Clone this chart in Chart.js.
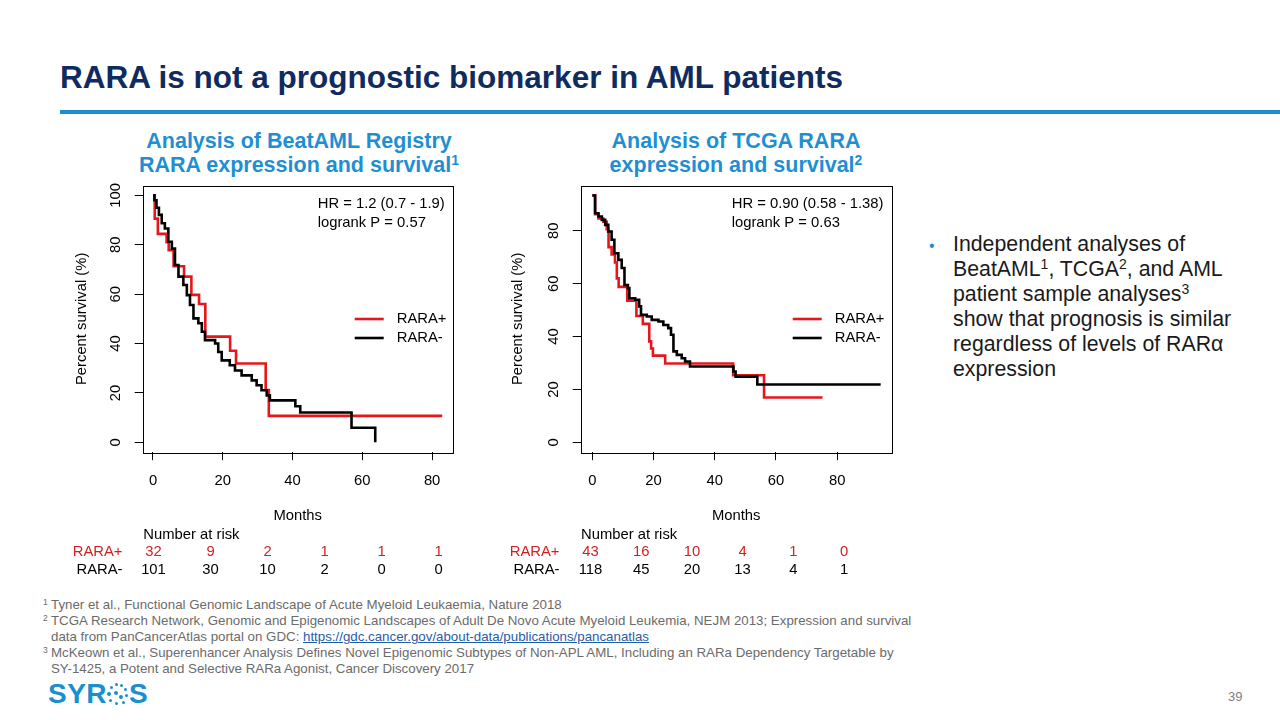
<!DOCTYPE html>
<html><head><meta charset="utf-8">
<script src="https://cdn.jsdelivr.net/npm/chart.js@4.4.0/dist/chart.umd.min.js"></script>
<style>
html,body{margin:0;padding:0;background:#fff;}
body{width:1280px;height:720px;position:relative;overflow:hidden;font-family:"Liberation Sans",Arial,Helvetica,sans-serif;}
.abs{position:absolute;white-space:nowrap;}
#title{left:60px;top:58px;font-size:31.5px;font-weight:bold;color:#0f2b5f;line-height:38px;}
#rule{left:60px;top:110px;width:1220px;height:4px;background:#1a8fd0;}
.sub{top:129px;width:440px;text-align:center;font-size:21.5px;font-weight:bold;color:#1f8fd3;line-height:24px;}
.sub sup{font-size:14px;line-height:0;vertical-align:7px;}
#bullet{left:953px;top:232px;font-size:21.3px;line-height:25px;color:#1a1a1a;}
#bullet sup{font-size:14px;line-height:0;vertical-align:7px;}
#bdot{left:929px;top:233px;font-size:16px;line-height:25px;color:#1f8fd3;}
.cv{position:absolute;top:175px;width:440px;height:355px;}
.risk{position:absolute;font-size:14.8px;line-height:18px;white-space:nowrap;}
#foot{left:43px;top:597px;font-size:13.3px;line-height:16.1px;color:#6b6b6b;}
#foot .n{display:inline-block;width:8px;font-size:8.5px;vertical-align:4px;line-height:0;}
#foot .c{display:inline-block;width:8px;}
#foot a{color:#1f5ea8;text-decoration:underline;}
#logo{left:48px;top:679px;font-size:28px;font-weight:bold;color:#1a8fd0;line-height:30px;letter-spacing:0.5px;}
#logo .dots{display:inline-block;position:relative;width:22px;height:22px;vertical-align:-2px;}
#logo .dots i{position:absolute;border-radius:50%;background:#1a8fd0;}
#pg{left:1228px;top:689px;font-size:13px;color:#7f7f7f;}
</style></head>
<body>
<div id="title" class="abs">RARA is not a prognostic biomarker in AML patients</div>
<div id="rule" class="abs"></div>
<div class="abs sub" style="left:79px;">Analysis of BeatAML Registry<br>RARA expression and survival<sup>1</sup></div>
<div class="abs sub" style="left:516px;">Analysis of TCGA RARA<br>expression and survival<sup>2</sup></div>

<div class="cv" style="left:40px;"><canvas id="cBeat" width="440" height="355"></canvas></div>
<div class="cv" style="left:480px;"><canvas id="cTcga" width="440" height="355"></canvas></div>

<div id="bdot" class="abs">•</div>
<div id="bullet" class="abs">Independent analyses of<br>BeatAML<sup>1</sup>, TCGA<sup>2</sup>, and AML<br>patient sample analyses<sup>3</sup><br>show that prognosis is similar<br>regardless of levels of RARα<br>expression</div>

<div id="risk"></div>

<div id="foot" class="abs"><span class="n">1</span>Tyner et al., Functional Genomic Landscape of Acute Myeloid Leukaemia, Nature 2018<br><span class="n">2</span>TCGA Research Network, Genomic and Epigenomic Landscapes of Adult De Novo Acute Myeloid Leukemia, NEJM 2013; Expression and survival<br><span class="c"></span>data from PanCancerAtlas portal on GDC: <a>https://gdc.cancer.gov/about-data/publications/pancanatlas</a><br><span class="n">3</span>McKeown et al., Superenhancer Analysis Defines Novel Epigenomic Subtypes of Non-APL AML, Including an RARa Dependency Targetable by<br><span class="c"></span>SY-1425, a Potent and Selective RARa Agonist, Cancer Discovery 2017</div>

<div id="logo" class="abs">SYR<span class="dots">
<i style="left:8px;top:0px;width:3px;height:3px"></i>
<i style="left:13px;top:1px;width:3px;height:3px"></i>
<i style="left:3px;top:3px;width:3px;height:3px"></i>
<i style="left:17px;top:5px;width:3px;height:3px"></i>
<i style="left:0px;top:9px;width:4px;height:4px"></i>
<i style="left:7px;top:8px;width:4px;height:4px"></i>
<i style="left:12px;top:12px;width:4px;height:4px"></i>
<i style="left:18px;top:11px;width:3px;height:3px"></i>
<i style="left:2px;top:16px;width:3px;height:3px"></i>
<i style="left:8px;top:19px;width:3px;height:3px"></i>
<i style="left:15px;top:18px;width:3px;height:3px"></i>
</span>S</div>
<div id="pg" class="abs">39</div>

<script>
// ---------- data ----------
const xTicks = [0, 20, 40, 60, 80];
const yTicksBeat = [0, 20, 40, 60, 80, 100];
const yTicksTcga = [0, 20, 40, 60, 80];

// BeatAML (months, % survival)
const beatPlusT  = [0, 0.5, 1.4, 3.9, 4.5, 5.9, 8.9, 11.0, 13.2, 15.0, 22.1, 23.8, 32.3, 33.2, 82.9];
const beatPlusS  = [100, 90.6, 84.4, 81.0, 77.8, 71.3, 67.1, 59.7, 56.0, 42.8, 37.1, 31.9, 21.2, 10.7, 10.7];
const beatMinusT = [0, 0.4, 1.0, 1.7, 2.5, 3.4, 4.4, 5.4, 6.3, 7.3, 8.7, 9.7, 10.6, 11.6, 13.0, 14.0, 14.9, 17.8, 18.7, 19.7, 22.0, 23.5, 25.4, 28.3, 29.7, 31.1, 32.6, 33.5, 40.8, 42.2, 56.9, 63.7];
const beatMinusS = [100, 98.0, 95.0, 92.1, 88.7, 86.6, 81.2, 78.5, 71.8, 67.1, 63.7, 59.6, 55.6, 50.2, 48.2, 44.8, 41.4, 40.0, 36.6, 33.2, 31.2, 29.1, 27.1, 25.1, 23.1, 21.1, 19.0, 17.0, 14.6, 12.1, 5.9, 0];

// TCGA (months, % survival)
const tcgaPlusT  = [0, 0.9, 2.0, 3.6, 4.7, 5.3, 6.3, 7.4, 8.0, 8.6, 11.4, 14.4, 16.5, 18.6, 19.2, 19.8, 23.8, 46.0, 56.1, 75.2];
const tcgaPlusS  = [93.4, 86.3, 84.6, 83.4, 80.6, 73.8, 71.0, 68.0, 62.0, 58.8, 53.6, 47.8, 44.8, 38.2, 35.5, 32.8, 29.8, 25.4, 17.0, 17.0];
const tcgaMinusT = [0, 0.9, 2.0, 3.1, 4.2, 5.2, 6.3, 7.2, 8.5, 9.6, 10.5, 11.6, 12.1, 14.0, 15.3, 15.9, 17.8, 19.4, 21.6, 23.2, 24.8, 25.7, 26.5, 27.6, 29.2, 30.3, 31.9, 46.1, 46.8, 53.9, 94.2];
const tcgaMinusS = [93.3, 86.6, 85.4, 84.1, 82.2, 79.7, 76.6, 71.5, 69.0, 65.9, 59.5, 58.3, 54.5, 53.9, 51.4, 48.2, 47.6, 46.3, 45.7, 44.4, 43.2, 40.7, 34.4, 33.1, 31.8, 30.6, 28.7, 26.8, 24.8, 21.9, 21.9];

const seriesNames = ['RARA+', 'RARA-'];
const beatStats = ['HR = 1.2 (0.7 - 1.9)', 'logrank P = 0.57'];
const tcgaStats = ['HR = 0.90 (0.58 - 1.38)', 'logrank P = 0.63'];

const beatRiskPlus  = [32, 9, 2, 1, 1, 1];
const beatRiskMinus = [101, 30, 10, 2, 0, 0];
const tcgaRiskPlus  = [43, 16, 10, 4, 1, 0];
const tcgaRiskMinus = [118, 45, 20, 13, 4, 1];

// ---------- style ----------
const RED = '#e3171c', BLACK = '#000000';
const FONT = '"Liberation Sans", Arial, Helvetica, sans-serif';
const FS = 14.8;

const rPlot = {
  id: 'rPlot',
  afterDraw(chart, args, opts) {
    const {ctx, chartArea: a} = chart;
    ctx.save();
    ctx.strokeStyle = '#000'; ctx.lineWidth = 1;
    ctx.strokeRect(Math.round(a.left) + 0.5, Math.round(a.top) + 0.5, Math.round(a.right - a.left), Math.round(a.bottom - a.top));
    ctx.font = FS + 'px ' + FONT;
    ctx.fillStyle = '#000';
    ctx.textAlign = 'center'; ctx.textBaseline = 'middle';
    const ys = chart.scales.y;
    ys.ticks.forEach(t => {
      const py = ys.getPixelForValue(t.value);
      ctx.save(); ctx.translate(a.left - 26.5, py); ctx.rotate(-Math.PI / 2);
      ctx.fillText(String(t.value), 0, 0); ctx.restore();
    });
    ctx.textAlign = 'left';
    opts.stats.forEach((s, i) => ctx.fillText(s, a.left + opts.statX, a.top + 18.5 + i * 18.7));
    chart.data.datasets.slice().reverse().forEach((d, i) => {
      const y = a.top + 133.5 + i * 19;
      ctx.strokeStyle = d.borderColor; ctx.lineWidth = 2.6;
      ctx.beginPath(); ctx.moveTo(a.left + 212, y); ctx.lineTo(a.left + 241, y); ctx.stroke();
      ctx.fillText(d.label, a.left + 254, y);
    });
    ctx.restore();
  }
};

function pts(t, s) { return t.map((v, i) => ({x: v, y: s[i]})); }

function makeKM(id, o) {
  const font = {family: FONT, size: FS};
  return new Chart(document.getElementById(id), {
    type: 'line',
    data: {
      datasets: [
        {label: seriesNames[1], data: pts(o.minusT, o.minusS), borderColor: BLACK, borderWidth: 2.6, stepped: 'before', pointRadius: 0, fill: false},
        {label: seriesNames[0], data: pts(o.plusT, o.plusS), borderColor: RED, borderWidth: 2.6, stepped: 'before', pointRadius: 0, fill: false}
      ]
    },
    options: {
      responsive: false, animation: false, devicePixelRatio: 1,
      layout: {padding: {left: 0, top: 10.5, right: o.padRight, bottom: 0}},
      plugins: {legend: {display: false}, tooltip: {enabled: false}, rPlot: {stats: o.stats, statX: o.statX}},
      scales: {
        x: {
          type: 'linear', min: o.xMin, max: o.xMax,
          afterBuildTicks: s => { s.ticks = xTicks.map(v => ({value: v})); },
          afterFit: s => { s.height = 77.8; },
          grid: {display: true, drawOnChartArea: false, drawTicks: true, tickLength: 8, color: '#000', lineWidth: 1},
          border: {display: false},
          ticks: {font, color: '#000', padding: 12, maxRotation: 0, autoSkip: false},
          title: {display: true, text: 'Months', font, color: '#000', padding: {top: 0, bottom: 5}}
        },
        y: {
          type: 'linear', min: o.yMin, max: o.yMax,
          afterBuildTicks: s => { s.ticks = o.yTicks.map(v => ({value: v})); },
          afterFit: s => { s.width = o.yWidth; },
          grid: {display: true, drawOnChartArea: false, drawTicks: true, tickLength: 8, color: '#000', lineWidth: 1},
          border: {display: false},
          ticks: {display: false},
          title: {display: true, text: 'Percent survival (%)', font, color: '#000', padding: {top: o.yTitlePad, bottom: 0}}
        }
      }
    },
    plugins: [rPlot]
  });
}

makeKM('cBeat', {plusT: beatPlusT, plusS: beatPlusS, minusT: beatMinusT, minusS: beatMinusS,
  xMin: -2.95, xMax: 85.9, yMin: -4, yMax: 104, yTicks: yTicksBeat, yWidth: 102.7, padRight: 27.3,
  yTitlePad: 33, stats: beatStats, statX: 175});
makeKM('cTcga', {plusT: tcgaPlusT, plusS: tcgaPlusS, minusT: tcgaMinusT, minusS: tcgaMinusS,
  xMin: -3.8, xMax: 97.8, yMin: -3.7, yMax: 97.1, yTicks: yTicksTcga, yWidth: 100.7, padRight: 28.3,
  yTitlePad: 29, stats: tcgaStats, statX: 151});

// risk tables
function riskTable(left0, step, labelRight, headLeft, plus, minus) {
  const box = document.getElementById('risk');
  const add = (txt, css) => { const d = document.createElement('div'); d.className = 'risk'; d.textContent = txt; Object.assign(d.style, css); box.appendChild(d); };
  add('Number at risk', {left: headLeft + 'px', top: '525px'});
  add(seriesNames[0], {left: (labelRight - 80) + 'px', width: '80px', textAlign: 'right', top: '542px', color: '#d21f1f'});
  add(seriesNames[1], {left: (labelRight - 80) + 'px', width: '80px', textAlign: 'right', top: '560px'});
  plus.forEach((v, i) => add(String(v), {left: (left0 + i * step - 20) + 'px', width: '40px', textAlign: 'center', top: '542px', color: '#d21f1f'}));
  minus.forEach((v, i) => add(String(v), {left: (left0 + i * step - 20) + 'px', width: '40px', textAlign: 'center', top: '560px'}));
}
riskTable(153.5, 57, 122.5, 143.3, beatRiskPlus, beatRiskMinus);
riskTable(590.5, 50.7, 559.5, 581, tcgaRiskPlus, tcgaRiskMinus);
</script>
</body></html>
